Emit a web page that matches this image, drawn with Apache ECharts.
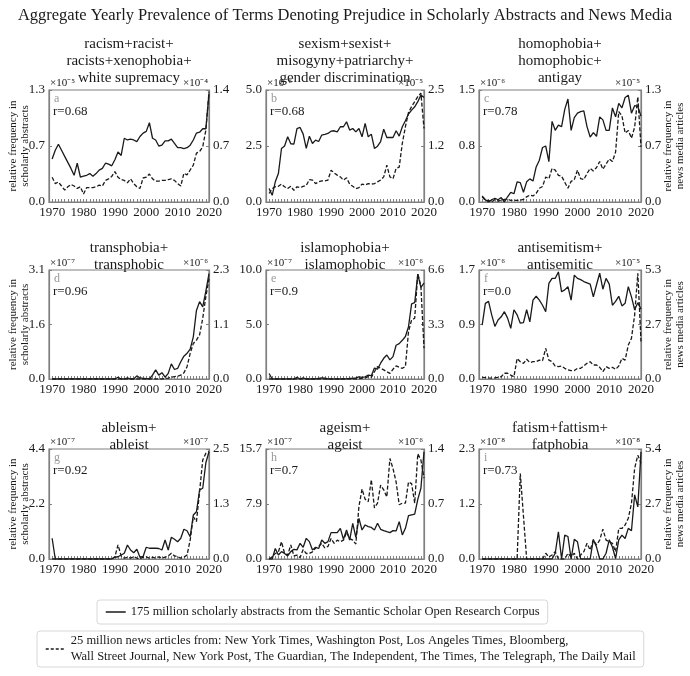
<!DOCTYPE html>
<html><head><meta charset="utf-8">
<script src="https://cdn.jsdelivr.net/npm/echarts@6/dist/echarts.min.js"></script>
<style>html,body{margin:0;padding:0;background:#fff}#c{width:690px;height:676px}</style>
</head><body><div id="c"></div>
<script>
const years = [1970,1971,1972,1973,1974,1975,1976,1977,1978,1979,1980,1981,1982,1983,1984,1985,1986,1987,1988,1989,1990,1991,1992,1993,1994,1995,1996,1997,1998,1999,2000,2001,2002,2003,2004,2005,2006,2007,2008,2009,2010,2011,2012,2013,2014,2015,2016,2017,2018,2019,2020];
const decadeTicks = [1970,1980,1990,2000,2010,2020];

const mainTitle = 'Aggregate Yearly Prevalence of Terms Denoting Prejudice in Scholarly Abstracts and News Media';
const nameS = '175 million scholarly abstracts from the Semantic Scholar Open Research Corpus';
const nameN = '25 million news articles from: New York Times, Washington Post, Los Angeles Times, Bloomberg,\nWall Street Journal, New York Post, The Guardian, The Independent, The Times, The Telegraph, The Daily Mail';

const panelTitles = ['racism+racist+\nracists+xenophobia+\nwhite supremacy','sexism+sexist+\nmisogyny+patriarchy+\ngender discrimination','homophobia+\nhomophobic+\nantigay','transphobia+\ntransphobic','islamophobia+\nislamophobic','antisemitism+\nantisemitic','ableism+\nableist','ageism+\nageist','fatism+fattism+\nfatphobia'];
const panelLetters = ['a','b','c','d','e','f','g','h','i'];
const rValues = ['r=0.68','r=0.68','r=0.78','r=0.96','r=0.9','r=0.0','r=0.92','r=0.7','r=0.73'];
const leftMultipliers = ['×10⁻⁵','×10⁻⁶','×10⁻⁶','×10⁻⁷','×10⁻⁷','×10⁻⁶','×10⁻⁷','×10⁻⁷','×10⁻⁸'];
const rightMultipliers = ['×10⁻⁴','×10⁻⁵','×10⁻⁵','×10⁻⁶','×10⁻⁶','×10⁻⁵','×10⁻⁷','×10⁻⁶','×10⁻⁸'];
const leftMax = [1.3, 5.0, 1.5, 3.1, 10.0, 1.7, 4.4, 15.7, 2.3];
const rightMax = [1.4, 2.5, 1.3, 2.3, 6.6, 5.3, 2.5, 1.4, 5.4];
const leftTicks = [['0.0','0.7','1.3'],['0.0','2.5','5.0'],['0.0','0.8','1.5'],['0.0','1.6','3.1'],['0.0','5.0','10.0'],['0.0','0.9','1.7'],['0.0','2.2','4.4'],['0.0','7.9','15.7'],['0.0','1.2','2.3']];
const rightTicks = [['0.0','0.7','1.4'],['0.0','1.2','2.5'],['0.0','0.7','1.3'],['0.0','1.1','2.3'],['0.0','3.3','6.6'],['0.0','2.7','5.3'],['0.0','1.3','2.5'],['0.0','0.7','1.4'],['0.0','2.7','5.4']];
const leftAxisLabel = 'relative frequency in\nscholarly abstracts';
const rightAxisLabel = 'relative frequency in\nnews media articles';

// a: racism
const raceS = [0.50,0.60,0.67,0.60,0.53,0.46,0.39,0.31,0.45,0.29, 0.30,0.31,0.33,0.30,0.33,0.37,0.39,0.45,0.44,0.42, 0.49,0.58,0.54,0.74,0.72,0.73,0.72,0.70,0.76,0.80, 0.82,0.92,0.74,0.72,0.65,0.66,0.71,0.71,0.73,0.68, 0.63,0.63,0.62,0.63,0.66,0.72,0.80,0.81,0.85,0.85,1.26];
const raceN = [0.31,0.23,0.25,0.20,0.15,0.19,0.22,0.20,0.17,0.19, 0.10,0.18,0.18,0.18,0.19,0.21,0.20,0.27,0.29,0.32, 0.38,0.31,0.28,0.27,0.24,0.29,0.23,0.19,0.17,0.30, 0.31,0.35,0.29,0.26,0.26,0.27,0.27,0.28,0.29,0.27, 0.23,0.20,0.36,0.34,0.40,0.46,0.61,0.63,0.69,0.90,1.38];
// b: sexism
const sexS = [0.60,0.30,0.90,1.27,2.39,2.50,2.91,2.60,2.58,3.28, 3.33,3.03,2.39,2.94,2.61,2.76,2.70,2.99,3.02,3.06, 3.16,3.18,3.13,3.36,3.36,3.58,3.21,3.28,3.13,3.28, 2.91,3.51,2.91,3.03,2.39,2.49,2.70,3.25,2.88,2.88, 2.88,3.18,2.94,3.36,3.63,3.93,4.10,4.25,4.48,4.78,4.67];
const sexN = [0.19,0.30,0.34,0.35,0.40,0.34,0.30,0.35,0.26,0.34, 0.32,0.35,0.37,0.50,0.49,0.41,0.45,0.47,0.47,0.49, 0.71,0.65,0.60,0.56,0.49,0.54,0.40,0.35,0.30,0.32, 0.40,0.38,0.41,0.40,0.41,0.45,0.49,0.56,0.82,0.56, 0.52,0.75,0.78,1.31,1.68,2.00,2.13,2.24,2.35,2.43,1.64];
// c: homophobia
const homoS = [0.08,0.03,0.00,0.03,0.05,0.03,0.06,0.00,0.07,0.13, 0.11,0.27,0.26,0.13,0.27,0.31,0.28,0.47,0.56,0.73, 0.75,0.54,1.08,0.96,1.03,1.01,1.24,1.38,0.96,1.13, 1.19,1.21,1.22,1.01,0.87,0.93,0.88,1.14,1.10,0.96, 0.96,1.26,1.14,1.32,1.26,1.40,1.43,1.19,1.29,1.28,1.15];
const homoN = [0.06,0.02,0.02,0.00,0.03,0.01,0.02,0.03,0.03,0.02, 0.02,0.02,0.02,0.03,0.06,0.08,0.07,0.10,0.16,0.18, 0.29,0.27,0.39,0.37,0.31,0.30,0.23,0.16,0.24,0.26, 0.37,0.27,0.26,0.33,0.39,0.36,0.40,0.47,0.38,0.44, 0.50,0.47,0.58,1.05,1.00,0.80,0.83,0.74,0.87,1.22,0.64];
// d: transphobia
const transS = [0,0,0,0,0,0,0,0,0,0, 0,0,0,0,0,0,0,0,0,0, 0.00,0.05,0.00,0.00,0.03,0.00,0.00,0.09,0.03,0.02, 0.01,0.00,0.11,0.26,0.11,0.18,0.05,0.16,0.43,0.27, 0.30,0.49,0.65,0.73,0.85,1.20,1.95,2.20,2.05,2.50,3.00];
const transN = [0,0,0,0,0,0,0,0,0,0, 0,0,0,0,0,0,0,0,0,0, 0,0,0,0,0,0,0,0,0,0, 0,0,0,0,0,0.00,0.01,0.02,0.04,0.05, 0.06,0.08,0.13,0.26,0.54,0.75,0.82,0.93,1.28,1.74,2.12];
// e: islamophobia
const islamS = [0.50,0,0,0,0,0,0,0,0,0.15, 0,0.10,0,0,0,0,0.05,0.10,0.08,0, 0,0,0,0,0,0.02,0.05,0.06,0.10,0.20, 0.15,0.20,0.35,0.30,1.00,0.90,1.45,1.90,2.20,1.75, 2.05,3.10,3.25,3.55,3.90,4.80,6.90,7.00,9.60,8.40,8.80];
const islamN = [0,0,0,0,0,0,0,0,0,0, 0,0,0,0,0,0,0,0,0,0, 0,0,0,0,0,0,0,0,0,0, 0.05,0.06,0.14,0.10,0.44,0.75,0.65,0.55,0.44,0.34, 0.59,0.79,0.71,0.65,0.75,2.87,3.58,3.68,6.40,5.60,1.86];
// f: antisemitism
const antiS = [0.84,1.18,1.21,1.00,0.82,0.92,0.97,1.05,0.95,0.79, 1.08,1.00,0.87,0.88,1.08,0.89,1.23,1.29,1.23,1.15, 1.05,1.49,1.57,1.57,1.67,1.36,1.39,1.44,1.23,1.62, 1.57,1.55,1.52,1.50,1.48,1.28,1.47,1.65,1.40,1.57, 1.48,1.15,1.21,1.29,1.14,1.18,1.44,1.28,1.08,1.19,1.09];
const antiN = [0.08,0.07,0.05,0.04,0.05,0.08,0.11,0.28,0.28,0.19, 0.11,1.00,0.84,0.76,0.96,0.80,0.84,0.84,0.92,0.89, 1.49,0.92,0.84,0.63,0.60,0.63,0.52,0.44,0.41,0.41, 0.52,0.52,0.63,0.76,0.84,0.68,0.68,0.57,0.36,0.60, 0.52,0.57,0.47,0.63,1.00,0.92,1.65,1.98,3.11,5.14,1.82];
// g: ableism
const ableS = [0.83,0,0,0,0,0,0,0,0,0, 0,0,0,0,0,0,0,0,0,0, 0.07,0.09,0.16,0.23,0.56,0.36,0.25,0.39,0.07,0.10, 0.47,0.43,0.43,0.43,0.42,0.36,0.76,0.36,0.87,0.79, 0.69,0.83,1.19,1.13,0.89,1.76,1.89,2.76,2.83,3.85,4.29];
const ableN = [0,0,0,0,0,0,0,0,0,0, 0,0,0,0,0,0,0,0,0,0, 0.05,0.32,0.07,0.02,0.04,0.02,0.05,0.02,0.00,0.04, 0.05,0.02,0.04,0.02,0.05,0.02,0.04,0.07,0.13,0.07, 0.05,0.02,0.04,0.09,0.43,0.96,0.85,1.53,2.25,2.40,2.44];
// h: ageism
const ageS = [0,0,1.50,0.57,1.05,0.80,0.43,1.05,1.38,1.30, 2.24,1.67,2.95,2.48,1.29,1.67,1.50,2.71,2.24,2.48, 3.76,3.76,3.76,4.38,2.81,4.14,2.71,5.10,3.10,5.80, 4.14,4.86,4.62,4.50,4.14,5.10,4.24,4.05,3.90,3.76, 4.05,4.00,5.33,3.43,4.38,6.20,6.30,6.40,8.50,10.10,15.30];
const ageN = [0.00,0.03,0.07,0.09,0.22,0.07,0.05,0.18,0.04,0.05, 0.02,0.12,0.07,0.07,0.09,0.14,0.16,0.20,0.14,0.16, 0.26,0.20,0.24,0.22,0.24,0.34,0.26,0.24,0.19,0.67, 0.89,0.76,0.73,1.01,0.65,0.71,0.94,0.88,0.79,1.28, 1.15,0.98,0.69,0.71,0.71,0.98,0.96,0.71,1.34,1.26,1.03];
// i: fatism
const fatS = [0,0,0,0,0,0,0,0,0,0, 0,0,0,0,0,0,0,0,0,0, 0,0,0,0.12,0.57,0.00,0.50,0.47,0.00,0.41, 0.36,0.00,0.00,0.00,0.00,0.41,0.25,0.00,0.00,0.12, 0.40,0.25,0.01,0.40,0.50,0.43,0.64,0.59,1.34,1.09,2.24];
const fatN = [0,0,0,0,0,0,0,0,0,0, 0,0,4.20,2.10,0,0,0,0,0,0, 0.28,0.10,0.20,0.36,0,0,0,0.28,0.10,0.28, 0,0.20,0.36,0.77,0.44,0.93,0.69,0.93,1.46,0.93, 0.85,0.77,0.36,1.50,1.50,1.67,2.00,2.73,4.45,5.10,4.70];

const scholarSeries = [raceS, sexS, homoS, transS, islamS, antiS, ableS, ageS, fatS];
const newsSeries = [raceN, sexN, homoN, transN, islamN, antiN, ableN, ageN, fatN];

// layout (pixels)
const colLeft = [49, 266, 479], colWidth = [160, 158, 162];
const rowTop = [90, 270, 449], rowHeight = [112, 109, 110];
const titleTop = [36, 240, 420];
const FONT = 'Liberation Serif';
const INK = '#1a1a1a';
const FRAME = '#808080';
const DASH = [4, 2];

const grids = [], xAxes = [], yAxes = [], series = [], titles = [], graphics = [];
titles.push({text: mainTitle, left: 'center', top: 7, padding: 0,
  textStyle: {fontFamily: FONT, fontSize: 16.5, fontWeight: 'normal', color: INK}});

for (let i = 0; i < 9; i++) {
  const r = Math.floor(i / 3), c = i % 3;
  const L = colLeft[c], W = colWidth[c], T = rowTop[r], H = rowHeight[r];
  grids.push({left: L, top: T, width: W, height: H, show: true, borderColor: FRAME, borderWidth: 1.2, backgroundColor: 'transparent'});
  xAxes.push({gridIndex: i, type: 'value', min: 1969, max: 2020,
    axisLine: {show: true, lineStyle: {color: FRAME, width: 1.2}},
    axisTick: {show: true, inside: true, length: 3, customValues: years, lineStyle: {color: FRAME}},
    axisLabel: {customValues: decadeTicks, fontFamily: FONT, fontSize: 13, color: INK, margin: 4,
      formatter: v => String(Math.round(v))},
    splitLine: {show: false}});
  const lm = leftMax[i], rm = rightMax[i], lt = leftTicks[i], rt = rightTicks[i];
  yAxes.push({gridIndex: i, type: 'value', position: 'left', min: 0, max: lm, interval: lm / 2,
    name: leftMultipliers[i], nameLocation: 'end', nameGap: 1,
    nameTextStyle: {fontFamily: FONT, fontSize: 11, color: INK, align: 'left', verticalAlign: 'bottom', padding: [0, 0, 0, 1]},
    axisLine: {show: true, lineStyle: {color: FRAME, width: 1.2}},
    axisTick: {show: true, inside: true, length: 3, lineStyle: {color: FRAME}},
    axisLabel: {fontFamily: FONT, fontSize: 13, color: INK, margin: 4,
      formatter: v => lt[Math.round(v / (lm / 2))]},
    splitLine: {show: false}});
  yAxes.push({gridIndex: i, type: 'value', position: 'right', min: 0, max: rm, interval: rm / 2,
    name: rightMultipliers[i], nameLocation: 'end', nameGap: 1,
    nameTextStyle: {fontFamily: FONT, fontSize: 11, color: INK, align: 'right', verticalAlign: 'bottom', padding: [0, 1, 0, 0]},
    axisLine: {show: true, lineStyle: {color: FRAME, width: 1.2}},
    axisTick: {show: true, inside: true, length: 3, lineStyle: {color: FRAME}},
    axisLabel: {fontFamily: FONT, fontSize: 13, color: INK, margin: 4,
      formatter: v => rt[Math.round(v / (rm / 2))]},
    splitLine: {show: false}});
  const s = scholarSeries[i], n = newsSeries[i];
  series.push({name: nameS, type: 'line', xAxisIndex: i, yAxisIndex: 2 * i, showSymbol: false, symbol: 'none',
    lineStyle: {color: INK, width: 1.3}, itemStyle: {color: INK}, z: 3,
    data: years.map((y, k) => [y, s[k]])});
  series.push({name: nameN, type: 'line', xAxisIndex: i, yAxisIndex: 2 * i + 1, showSymbol: false, symbol: 'none',
    lineStyle: {color: INK, width: 1.3, type: DASH}, itemStyle: {color: INK}, z: 2,
    data: years.map((y, k) => [y, n[k]])});
  titles.push({text: panelTitles[i], left: L + W / 2, top: titleTop[r], textAlign: 'center', padding: 0,
    textStyle: {fontFamily: FONT, fontSize: 15, fontWeight: 'normal', color: INK, lineHeight: 17}});
  graphics.push({type: 'text', x: L + 5, y: T + 9, style: {text: panelLetters[i], font: '12px "Liberation Serif"', fill: '#999', textVerticalAlign: 'middle'}});
  graphics.push({type: 'text', x: L + 4, y: T + 22, style: {text: rValues[i], font: '13px "Liberation Serif"', fill: INK, textVerticalAlign: 'middle'}});
  if (c === 0) {
    graphics.push({type: 'text', x: 19, y: T + H / 2, rotation: Math.PI / 2,
      style: {text: leftAxisLabel, font: '11px "Liberation Serif"', fill: INK, textAlign: 'center', textVerticalAlign: 'middle', lineHeight: 12}});
  }
  if (c === 2) {
    graphics.push({type: 'text', x: 674, y: T + H / 2, rotation: Math.PI / 2,
      style: {text: rightAxisLabel, font: '11px "Liberation Serif"', fill: INK, textAlign: 'center', textVerticalAlign: 'middle', lineHeight: 12}});
  }
}

const legendCommon = {orient: 'horizontal', itemWidth: 20, itemHeight: 10, borderColor: '#d8d8d8', borderWidth: 1, borderRadius: 3,
  backgroundColor: '#fff', textStyle: {fontFamily: FONT, fontSize: 12.5, color: INK, lineHeight: 16}, selectedMode: false,
  itemStyle: {opacity: 0}};
const legends = [
  Object.assign({}, legendCommon, {data: [nameS], left: 97, top: 600, padding: [4, 8, 4, 8],
    lineStyle: {color: INK, width: 1.5, type: 'solid'}}),
  Object.assign({}, legendCommon, {data: [nameN], left: 37, top: 631, padding: [2, 8, 2, 8],
    lineStyle: {color: INK, width: 1.5, type: [3, 2]}})
];

const chart = echarts.init(document.getElementById('c'), null, {renderer: 'canvas'});
chart.setOption({
  animation: false,
  backgroundColor: '#fff',
  textStyle: {fontFamily: FONT},
  title: titles,
  grid: grids,
  xAxis: xAxes,
  yAxis: yAxes,
  legend: legends,
  series: series,
  graphic: graphics
});
</script></body></html>
